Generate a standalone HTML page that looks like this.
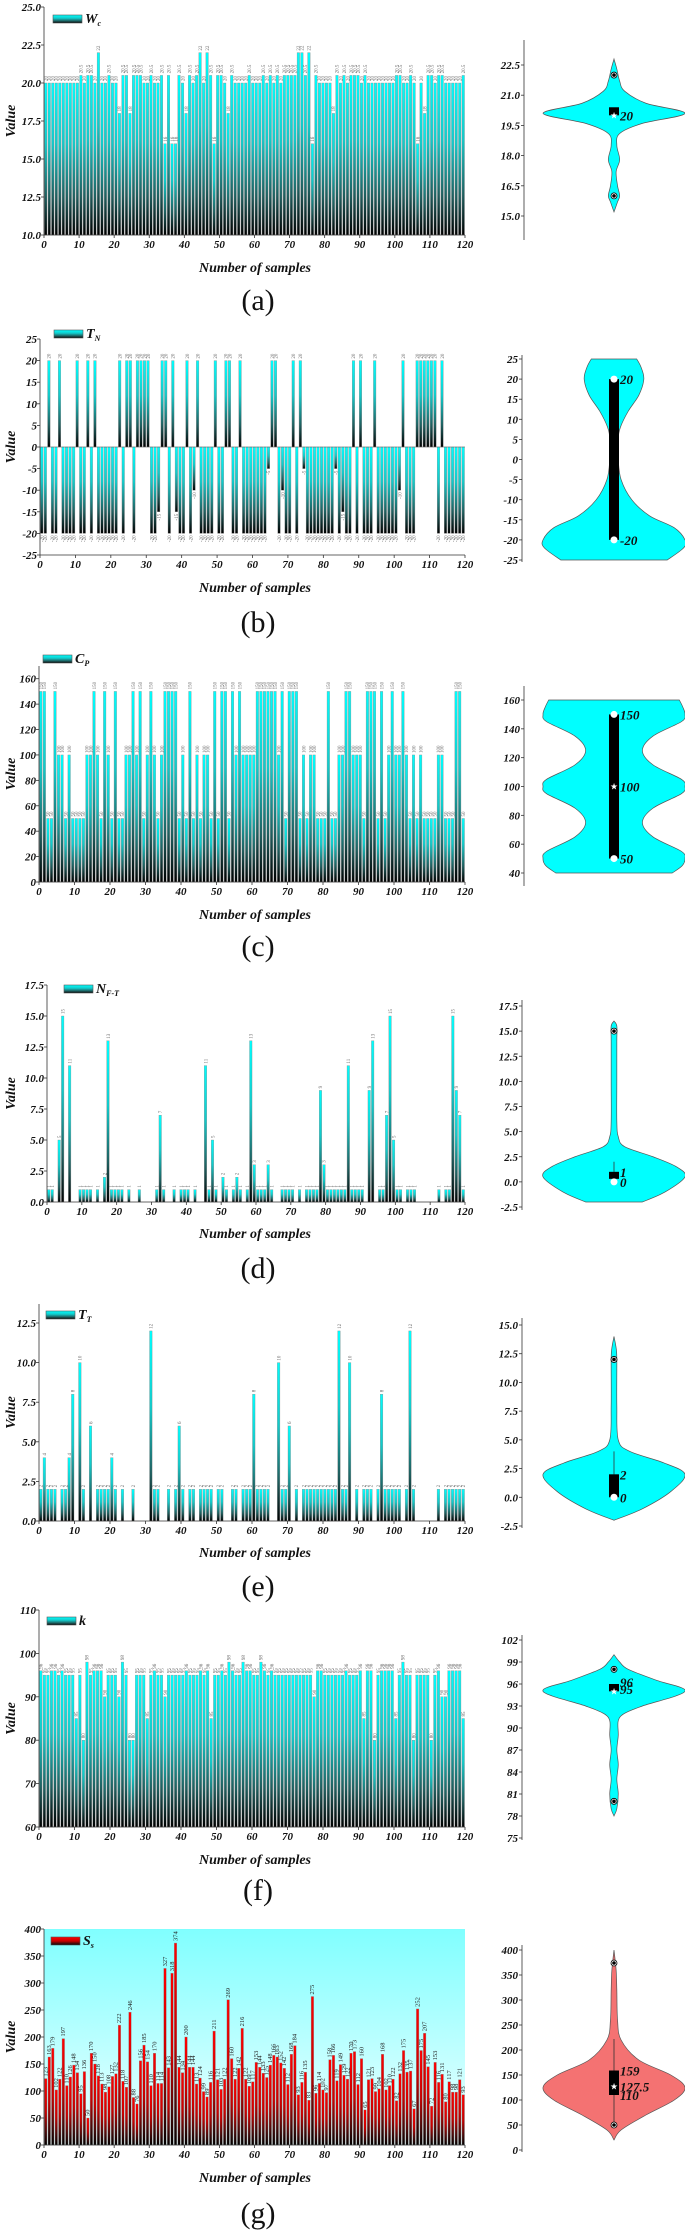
<!DOCTYPE html>
<html><head><meta charset="utf-8">
<style>
html,body{margin:0;padding:0;background:#fff;}
svg{display:block;}
text{font-family:"Liberation Serif",serif;}
.tk{font-size:11px;font-weight:bold;font-style:italic;fill:#111;}
.ax{font-size:14px;font-weight:bold;font-style:italic;fill:#111;}
.cap{font-size:30px;fill:#111;}
.bl{font-size:5px;fill:#666;}
.blg{font-size:6.5px;fill:#222;}
.vl{font-size:13px;font-weight:bold;font-style:italic;fill:#111;}
</style></head>
<body>
<svg id="fig" width="685" height="2232" viewBox="0 0 685 2232" xmlns="http://www.w3.org/2000/svg">
<defs>
<linearGradient id="gc" x1="0" y1="0" x2="0" y2="1"><stop offset="0" stop-color="#00ffff"/><stop offset="0.4" stop-color="#12caca"/><stop offset="0.75" stop-color="#1f5f5f"/><stop offset="1" stop-color="#000"/></linearGradient>
<linearGradient id="gr" x1="0" y1="0" x2="0" y2="1"><stop offset="0" stop-color="#ff0000"/><stop offset="0.5" stop-color="#c80000"/><stop offset="0.8" stop-color="#4a0a0a"/><stop offset="1" stop-color="#000"/></linearGradient>
<linearGradient id="gbg" x1="0" y1="0" x2="0" y2="1"><stop offset="0" stop-color="#80ffff"/><stop offset="1" stop-color="#f0ffff"/></linearGradient>
</defs>
</svg>
<script>
const wcValues=[20,20,20,20,20,20,20,20,20,20,
20.5,20,20.5,20.5,20,22,20,20,20.5,20,
20,18,20.5,20.5,18,20.5,20.5,20.5,20,20,
20.5,20,20,20.5,16,20.5,16,16,20.5,20,
18,20.5,20,20.5,22,20,22,20.5,16,20.5,
20.5,20,18,20.5,20,20,20,20,20.5,20,
20,20,20.5,20,20.5,20,20.5,20,20.5,20.5,
20.5,20.5,22,22,20.5,22,16,20.5,20,20,
20,20,18,20.5,20,20.5,20,20.5,20.5,20.5,
20,20.5,20,20,20,20,20,20,20,20,
20.5,20.5,20,20,20.5,20,16,20,18,20.5,
20.5,20,20.5,20.5,20,20,20,20,20,20.5];
const tnValues=[-20,-20,20,-20,-20,20,-20,-20,-20,-20,
20,-20,-20,20,-20,20,-20,-20,-20,-20,
-20,-20,20,-20,20,20,-20,20,20,20,
20,-20,-20,-15,20,20,-20,20,-15,-20,
-20,20,-20,-10,20,-20,-20,-20,-20,20,
-20,-20,20,20,-20,-20,20,-20,-20,-20,
-20,-20,-20,-20,-5,20,20,-20,-10,-20,
-20,20,-20,20,-5,-20,-20,-20,-20,-20,
-20,-20,-20,-5,-20,-15,-20,-20,20,-20,
20,-20,-20,-20,20,-20,-20,-20,-20,-20,
-20,-10,20,-20,-20,-20,20,20,20,20,
20,20,-20,20,-20,-20,-20,-20,-20,-20];
const cpValues=[150,150,50,50,150,100,100,50,100,50,
50,50,50,100,100,150,100,50,150,100,
50,150,50,50,100,100,150,100,150,50,
100,150,100,50,100,150,150,150,150,50,
100,50,150,50,100,50,100,100,50,150,
50,150,150,50,150,100,150,100,100,100,
100,150,150,150,150,150,150,100,150,50,
150,150,150,50,100,50,100,100,50,50,
50,150,50,50,100,100,150,150,100,100,
100,50,150,150,150,50,150,50,100,150,
100,100,150,100,50,100,50,100,50,50,
50,50,100,100,50,50,50,150,150,50];
const nftValues=[1,1,0,5,15,0,11,0,0,1,
1,1,1,0,1,0,2,13,1,1,
1,1,0,1,0,0,1,0,0,0,
0,1,7,1,0,0,1,0,1,1,
1,0,1,0,0,11,1,5,1,0,
2,1,0,1,2,1,0,1,13,3,
1,1,1,3,1,0,0,1,1,1,
1,0,1,0,1,1,1,1,9,3,
1,1,1,1,1,1,11,1,1,1,
1,0,9,13,0,1,1,7,15,5,
1,1,0,1,1,1,0,0,0,0,
0,0,1,0,1,1,15,9,7,1];
const ttValues=[2,4,2,2,2,0,2,2,4,8,
0,10,2,0,6,0,2,2,2,2,
4,2,0,2,0,0,2,0,0,0,
0,12,2,2,0,0,2,0,2,6,
2,0,2,2,0,2,2,2,2,0,
2,2,0,0,2,2,0,2,2,2,
8,2,2,2,2,0,0,10,2,2,
6,0,2,0,2,2,2,2,2,2,
2,2,2,2,12,2,2,10,0,2,
0,2,2,2,0,2,8,2,2,2,
2,2,0,2,12,2,0,0,0,0,
0,0,2,0,2,2,2,2,2,2];
const kValues=[96,95,95,96,96,95,96,95,95,95,
85,95,80,98,95,96,96,96,90,95,
95,95,90,98,95,80,80,95,95,95,
85,95,96,95,95,90,95,95,95,95,
95,96,95,95,95,96,95,96,85,95,
95,96,95,98,96,95,95,98,96,96,
95,95,98,96,95,96,95,95,95,95,
95,95,95,95,95,95,95,90,96,96,
95,95,95,95,95,95,96,95,95,95,
96,85,96,96,80,95,96,96,96,96,
85,95,98,95,95,80,95,95,95,95,
80,95,96,90,90,96,96,96,96,85];
const ssValues=[123,163,179,102,122,197,110,126,148,134,
95,136,50,170,150,128,113,98,108,127,
132,222,118,107,246,88,76,156,185,154,
110,170,114,114,327,143,318,374,144,134,
200,144,144,113,124,99,89,116,211,121,
103,122,269,160,122,142,216,122,109,117,
153,144,133,125,148,166,163,152,142,112,
168,184,93,116,135,83,275,96,114,102,
97,158,166,119,149,129,122,170,173,112,
160,65,121,123,99,104,168,102,110,122,
82,132,175,135,137,67,252,175,207,145,
72,153,116,131,80,117,98,98,121,93];
const xTickLabels=[0,10,20,30,40,50,60,70,80,90,100,110,120];
const captionLabels=['(a)','(b)','(c)','(d)','(e)','(f)','(g)'];
const legendNames=[['W','c'],['T','N'],['C','P'],['N','F-T'],['T','T'],['k',''],['S','s']];
// violin density profiles: [value, relative half-width]
const wcViolin=[[15.2,0],[15.7,0.05],[16,0.08],[16.5,0.05],[17.2,0.03],[17.8,0.08],[18.5,0.04],[19.1,0.08],[19.6,0.4],[20.1,1],[20.6,0.45],[21.2,0.15],[21.7,0.08],[22.3,0.04],[22.8,0]];
const tnViolin=[[-25,0.75],[-22,0.98],[-20,1],[-17,0.85],[-14,0.5],[-10,0.25],[-5,0.1],[0,0.06],[5,0.06],[8,0.09],[12,0.2],[16,0.35],[20,0.42],[23,0.38],[25,0.32]];
const cpViolin=[[40,0.82],[45,0.96],[50,1],[55,0.95],[65,0.55],[75,0.4],[85,0.55],[95,0.95],[100,1],[105,0.95],[115,0.55],[125,0.4],[135,0.55],[145,0.95],[150,1],[155,0.97],[160,0.92]];
const nftViolin=[[-2,0.4],[-1,0.72],[0.5,1],[1.5,0.88],[2.5,0.55],[3.5,0.15],[4.5,0.06],[6,0.04],[10,0.04],[14,0.04],[15.5,0.04],[16,0]];
const ttViolin=[[-2,0],[-1,0.4],[0.5,0.8],[2,1],[3,0.7],[4,0.22],[5,0.06],[8,0.04],[12,0.04],[13,0.03],[14,0]];
const kViolin=[[78,0],[79,0.04],[81,0.06],[83,0.04],[85,0.06],[87,0.04],[89,0.06],[91,0.06],[92,0.15],[93,0.4],[95,1],[96.5,0.6],[98,0.2],[99,0.08],[100,0]];
const ssViolin=[[20,0],[40,0.1],[70,0.45],[100,0.85],[125,1],[150,0.8],[180,0.35],[220,0.1],[260,0.05],[320,0.04],[360,0.03],[400,0]];
// violin summary stats
const wcStats={boxLo:20,boxHi:20.4,star:20,pts:[16,22],labels:[['20',20]]};
const tnStats={boxLo:-20,boxHi:20,star:null,white:[20,-20],pts:[],labels:[['20',20],['-20',-20]]};
const cpStats={boxLo:50,boxHi:150,star:100,white:[150,50],pts:[],labels:[['150',150],['100',100],['50',50]]};
const nftStats={boxLo:0.3,boxHi:1,star:null,white:[0],pts:[15],whisk:[1,2],labels:[['1',1],['0',0]]};
const ttStats={boxLo:0,boxHi:2,star:null,white:[0],pts:[12],whisk:[2,4],labels:[['2',2],['0',0]]};
const kStats={boxLo:95,boxHi:96,star:95,pts:[98,80],labels:[['96',96.3],['95',95.3]]};
const ssStats={boxLo:110,boxHi:159,star:127.5,pts:[50,374],whisk:[50,222],labels:[['159',159],['127.5',127.5],['110',110]]};

const NS='http://www.w3.org/2000/svg';
const svg=document.getElementById('fig');
function el(tag,attrs,parent,txt){const e=document.createElementNS(NS,tag);for(const k in attrs)e.setAttribute(k,attrs[k]);if(txt!==undefined)e.textContent=txt;(parent||svg).appendChild(e);return e;}
function fmt(v,d){return d?v.toFixed(d):String(Math.round(v));}
function smooth(p){let d='';for(let i=0;i<p.length-1;i++){const p0=p[Math.max(0,i-1)],p1=p[i],p2=p[i+1],p3=p[Math.min(p.length-1,i+2)];const c1=[p1[0]+(p2[0]-p0[0])/6,p1[1]+(p2[1]-p0[1])/6],c2=[p2[0]-(p3[0]-p1[0])/6,p2[1]-(p3[1]-p1[1])/6];d+=` C${c1[0]},${c1[1]} ${c2[0]},${c2[1]} ${p2[0]},${p2[1]}`;}return d;}

const panels=[
{data:wcValues,x0:44,yMin:10,yMax:25,tickMax:25,step:2.5,dec:1,yTop:7,yBot:235,leg:[53,15],xl:267,cap:300,
 vio:wcViolin,st:wcStats,vMin:15,vYMin:216,vMax:22.5,vYMax:65,vStep:1.5,vDec:1,vLine:[40,240],ax:524},
{data:tnValues,x0:40,yMin:-25,yMax:25,tickMax:25,step:5,dec:0,yTop:339,yBot:555,leg:[54,330],xl:587,cap:622,
 vio:tnViolin,st:tnStats,vMin:-25,vYMin:560,vMax:25,vYMax:359,vStep:5,vDec:0,vLine:[355,562],ax:522},
{data:cpValues,x0:39,yMin:0,yMax:170,tickMax:160,step:20,dec:0,yTop:666,yBot:882,leg:[43,655],xl:914,cap:946,
 vio:cpViolin,st:cpStats,vMin:40,vYMin:873,vMax:160,vYMax:700,vStep:20,vDec:0,vLine:[686,886],ax:524},
{data:nftValues,x0:47,yMin:0,yMax:17.5,tickMax:17.5,step:2.5,dec:1,yTop:985,yBot:1202,leg:[64,985],xl:1233,cap:1268,
 vio:nftViolin,st:nftStats,vMin:-2.5,vYMin:1207,vMax:17.5,vYMax:1006,vStep:2.5,vDec:1,vLine:[1000,1210],ax:522},
{data:ttValues,x0:39,yMin:0,yMax:13.7,tickMax:12.5,step:2.5,dec:1,yTop:1304,yBot:1521,leg:[46,1311],xl:1552,cap:1586,
 vio:ttViolin,st:ttStats,vMin:-2.5,vYMin:1526,vMax:15,vYMax:1325,vStep:2.5,vDec:1,vLine:[1318,1528],ax:522},
{data:kValues,x0:39,yMin:60,yMax:110,tickMax:110,step:10,dec:0,yTop:1610,yBot:1827,leg:[47,1617],xl:1859,cap:1890,
 vio:kViolin,st:kStats,vMin:75,vYMin:1838,vMax:102,vYMax:1640,vStep:3,vDec:0,vLine:[1635,1840],ax:522},
{data:ssValues,x0:44,yMin:0,yMax:400,tickMax:400,step:50,dec:0,yTop:1929,yBot:2145,leg:[51,1937],xl:2177,cap:2213,red:true,
 vio:ssViolin,st:ssStats,vMin:0,vYMin:2150,vMax:400,vYMax:1950,vStep:50,vDec:0,vLine:[1945,2152],ax:522}
];
const X1=465, VCX=614, VHW=71;

panels.forEach((P,pi)=>{
  const g=el('g',{});
  
  
  const n=P.data.length, unit=(X1-P.x0)/n;
  const yS=v=>P.yBot-(v-P.yMin)/(P.yMax-P.yMin)*(P.yBot-P.yTop);
  const xS=i=>P.x0+i*unit;
  if(P.red){const bg=el('rect',{x:P.x0,y:P.yTop,width:X1-P.x0,height:P.yBot-P.yTop,fill:'url(#gbg)'},g);}
  const base=Math.max(P.yMin,0)===P.yMin?P.yMin:0;
  const bars=el('g',{},g);
  P.data.forEach((v,i)=>{
    const cx=xS(i+0.5), w=unit*0.72;
    const y0=yS(base), y1=yS(v);
    const top=Math.min(y0,y1), h=Math.abs(y1-y0);
    if(h>0.01){
      const r=el('rect',{x:cx-w/2,y:top,width:w,height:h,fill:P.red?'url(#gr)':'url(#gc)',stroke:'#8a8a8a','stroke-width':0.35},bars);
      
      
    }
    if(v!==0){
      const ly=v>=0?y1-2:y1+2;
      const t=el('text',{class:P.red?'blg':'bl',transform:`translate(${cx+1.8},${ly}) rotate(-90)`,'text-anchor':v>=0?'start':'end'},g,String(v));
      
      
    }
  });
  // axes
  const ax=el('path',{d:`M${P.x0},${P.yTop} V${P.yBot} H${X1}`,stroke:'#333','stroke-width':0.8,fill:'none'},g);
  
  if(P.yMin<0){el('line',{x1:P.x0,x2:X1,y1:yS(0),y2:yS(0),stroke:'#555','stroke-width':0.5},g);}
  for(let v=P.yMin;v<=P.tickMax+1e-6;v+=P.step){
    const y=yS(v);
    el('line',{x1:P.x0-3,x2:P.x0,y1:y,y2:y,stroke:'#333','stroke-width':0.8},g);
    const t=el('text',{class:'tk',x:P.x0-3,y:y+4,'text-anchor':'end'},g,fmt(v,P.dec));
    
  }
  xTickLabels.forEach(v=>{
    const x=xS(v);
    el('line',{x1:x,x2:x,y1:P.yBot,y2:P.yBot+3,stroke:'#333','stroke-width':0.8},g);
    const t=el('text',{class:'tk',x:x,y:P.yBot+13,'text-anchor':'middle'},g,String(v));
    
  });
  const yt=el('text',{class:'ax',transform:`translate(15,${(P.yTop+P.yBot)/2}) rotate(-90)`,'text-anchor':'middle'},g,'Value');
  
  const xt=el('text',{class:'ax',x:255,y:P.xl+5,'text-anchor':'middle'},g,'Number of samples');
  
  const cp=el('text',{class:'cap',x:258,y:P.cap+10,'text-anchor':'middle'},g,captionLabels[pi]);
  
  // legend
  const lg=el('g',{},g);
  el('rect',{x:P.leg[0],y:P.leg[1],width:29,height:8,fill:P.red?'url(#gr)':'url(#gc)',stroke:'#555','stroke-width':0.6},lg);
  const lt=el('text',{class:'ax',x:P.leg[0]+32,y:P.leg[1]+8,'font-size':'12'},lg);
  el('tspan',{},lt,legendNames[pi][0]);
  if(legendNames[pi][1]){el('tspan',{'font-size':'8',dy:'3'},lt,legendNames[pi][1]);}
  // violin
  const vg=el('g',{},g);
  const vy=v=>P.vYMin-(v-P.vMin)/(P.vMax-P.vMin)*(P.vYMin-P.vYMax);
  el('line',{x1:P.ax,x2:P.ax,y1:P.vLine[0],y2:P.vLine[1],stroke:'#333','stroke-width':0.8},vg);
  for(let v=P.vMin;v<=P.vMax+1e-6;v+=P.vStep){
    const y=vy(v);
    el('line',{x1:P.ax-3,x2:P.ax,y1:y,y2:y,stroke:'#333','stroke-width':0.8},vg);
    const t=el('text',{class:'tk',x:P.ax-4,y:y+4,'text-anchor':'end'},vg,fmt(v,P.vDec));
    
  }
  const prof=P.vio.slice().sort((a,b)=>b[0]-a[0]);
  const right=prof.map(p=>[VCX+p[1]*VHW,vy(p[0])]);
  const left=prof.slice().reverse().map(p=>[VCX-p[1]*VHW,vy(p[0])]);
  const d='M'+right[0][0]+','+right[0][1]+smooth(right)+' L'+left[0][0]+','+left[0][1]+smooth(left)+' Z';
  const vp=el('path',{d:d,fill:P.red?'#f47272':'#00ffff',stroke:'#555','stroke-width':0.7},vg);
  
  const S=P.st;
  if(S.whisk){el('line',{x1:VCX,x2:VCX,y1:vy(S.whisk[0]),y2:vy(S.whisk[1]),stroke:'#333','stroke-width':0.8},vg);}
  const bx=el('rect',{x:VCX-5,y:vy(S.boxHi),width:10,height:Math.max(3,vy(S.boxLo)-vy(S.boxHi)),fill:'#000'},vg);
  
  (S.white||[]).forEach(v=>{el('circle',{cx:VCX,cy:vy(v),r:3.5,fill:'#fff'},vg);});
  S.pts.forEach(v=>{el('circle',{cx:VCX,cy:vy(v),r:3,fill:'#fff',stroke:'#000','stroke-width':0.8},vg);el('circle',{cx:VCX,cy:vy(v),r:1.8,fill:'#000'},vg);});
  if(S.star!==null){el('text',{x:VCX,y:vy(S.star)+3,'text-anchor':'middle','font-size':'9',fill:'#fff'},vg,'★');}
  S.labels.forEach(l=>{const t=el('text',{class:'vl',x:VCX+6,y:vy(l[1])+5},vg,l[0]);});
});
</script>
</body></html>
